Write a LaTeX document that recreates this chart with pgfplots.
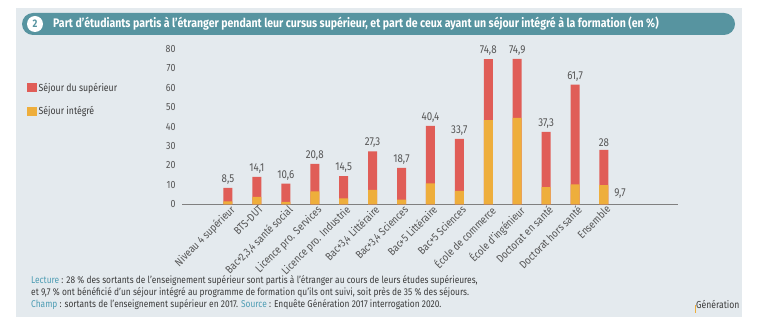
\documentclass[border=0pt]{standalone}
\usepackage{fontspec}
\setmainfont{Fira Sans}[FakeStretch=0.85]
\usepackage{pgfplots}
\pgfplotsset{compat=1.18}
\definecolor{panel}{HTML}{E4EAEE}
\definecolor{titlebar}{HTML}{5794A0}
\definecolor{redbar}{HTML}{E05D57}
\definecolor{yelbar}{HTML}{EEAE3C}
\definecolor{txt}{HTML}{3C3C3C}
\definecolor{lbl}{HTML}{4E9DB4}
\definecolor{ticktxt}{HTML}{555555}
\begin{document}
\begin{tikzpicture}
\fill[white] (0,0) rectangle (768bp,336bp);
\fill[panel] (16bp,19bp) rectangle (742bp,328bp);
\fill[titlebar, rounded corners=11bp] (22bp,301bp) rectangle (735bp,323bp);
\fill[white] (35bp,312bp) circle (8bp);
\node[font=\fontsize{11}{12}\selectfont\bfseries, text=titlebar] at (35bp,312bp) {2};
\node[anchor=base west, font=\fontsize{12.45}{14}\selectfont\bfseries, text=white, inner sep=0pt] at (53bp,308bp) {Part d'étudiants partis à l'étranger pendant leur cursus supérieur, et part de ceux ayant un séjour intégré à la formation (en \%)};
\begin{axis}[
  at={(182bp,131.7bp)}, anchor=south west,
  scale only axis, width=496bp, height=155.3bp,
  xmin=-1.59, xmax=15.56, ymin=0, ymax=80,
  axis x line=bottom, axis y line=left,
  x axis line style={-, draw=black!50, line width=0.8pt},
  y axis line style={draw=none},
  ytick={0,10,...,80},
  xtick={0,...,13},
  xticklabels={{Niveau 4 supérieur},{BTS-DUT},{Bac+2,3,4 santé social},{Licence pro. Services},{Licence pro. Industrie},{Bac+3,4 Littéraire},{Bac+3,4 Sciences},{Bac+5 Littéraire},{Bac+5 Sciences},{École de commerce},{École d'ingénieur},{Doctorat en santé},{Doctorat hors santé},{Ensemble}},
  major tick length=0pt,
  /pgf/number format/assume math mode=true,
  yticklabel style={font=\fontsize{10.5}{12}\selectfont, text=ticktxt, xshift=-3bp},
  xticklabel style={font=\fontsize{11}{12}\selectfont, text=ticktxt, rotate=45, anchor=north east, inner sep=1pt, xshift=2bp},
  ybar, bar width=9bp, bar shift=0pt,
  legend style={at={(-0.3125,0.795)}, anchor=north west, draw=none, fill=none, font=\fontsize{10.3}{12}\selectfont, text=txt, row sep=10bp, inner sep=0pt},
  legend cell align=left,
  legend image code/.code={\fill[#1] (0bp,-4.5bp) rectangle (9.5bp,5bp);},
  clip=false,
]
\addplot[fill=redbar, draw=none,
  nodes near coords, every node near coord/.append style={font=\fontsize{11.5}{13}\selectfont, text=ticktxt, /pgf/number format/.cd, fixed, precision=1, use comma, assume math mode=true}]
  coordinates {(0,8.5) (1,14.1) (2,10.6) (3,20.8) (4,14.5) (5,27.3) (6,18.7) (7,40.4) (8,33.7) (9,74.8) (10,74.9) (11,37.3) (12,61.7) (13,28)};
\addlegendentry{Séjour du supérieur}
\addplot[fill=yelbar, draw=none]
  coordinates {(0,1.5) (1,3.8) (2,1.2) (3,6.7) (4,3.1) (5,7.4) (6,2.4) (7,10.8) (8,6.9) (9,43.4) (10,44.5) (11,8.9) (12,10.3) (13,9.7)};
\addlegendentry{Séjour intégré}
\addplot[fill=yelbar, draw=none, forget plot,
  nodes near coords, every node near coord/.append style={anchor=north west, xshift=7bp, font=\fontsize{11.5}{13}\selectfont, text=ticktxt, /pgf/number format/.cd, fixed, precision=1, use comma, assume math mode=true}]
  coordinates {(13,9.7)};
\end{axis}
\node[anchor=base west, font=\fontsize{9.9}{12}\selectfont, text=txt, inner sep=0pt] at (31bp,52bp) {\textcolor{lbl}{Lecture} : 28 \% des sortants de l'enseignement supérieur sont partis à l'étranger au cours de leurs études supérieures,};
\node[anchor=base west, font=\fontsize{9.9}{12}\selectfont, text=txt, inner sep=0pt] at (31bp,40.3bp) {et 9,7 \% ont bénéficié d'un séjour intégré au programme de formation qu'ils ont suivi, soit près de 35 \% des séjours.};
\node[anchor=base west, font=\fontsize{9.9}{12}\selectfont, text=txt, inner sep=0pt] at (31bp,28.6bp) {\textcolor{lbl}{Champ} : sortants de l'enseignement supérieur en 2017. \textcolor{lbl}{Source} : Enquête Génération 2017 interrogation 2020.};
\node[anchor=base west, font=\fontsize{10.2}{12}\selectfont, text=txt, inner sep=0pt] at (696bp,28bp) {Génération};
\fill[yelbar] (695bp,23bp) rectangle (696bp,31bp);
\end{tikzpicture}
\end{document}
